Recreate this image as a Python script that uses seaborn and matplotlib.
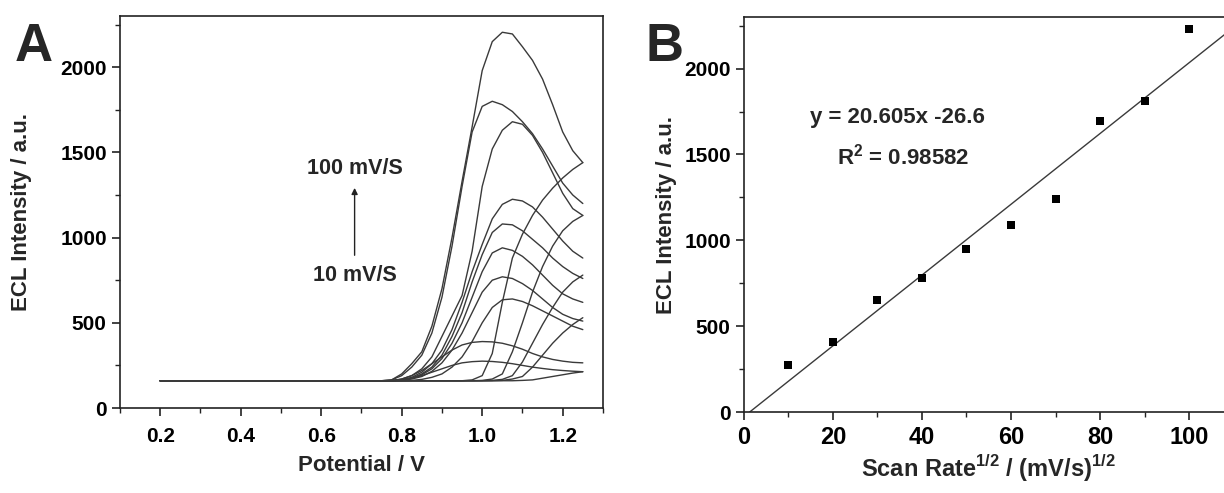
import numpy as np
import pandas as pd
import seaborn as sns
import matplotlib
matplotlib.use("Agg")
import matplotlib.pyplot as plt
from matplotlib.ticker import MultipleLocator

# ---- panel A: ECL intensity vs potential ----
potential = [0.20, 0.75, 0.775, 0.80, 0.825, 0.85, 0.875, 0.90, 0.925, 0.95, 0.975,
             1.00, 1.025, 1.05, 1.075, 1.10, 1.125, 1.15, 1.175, 1.20, 1.225, 1.25]

# peaked curves (10 ... 100 mV/s)
curve_100 = [160, 160, 165, 200, 260, 330, 480, 700, 1000, 1330, 1650,
             1980, 2150, 2205, 2195, 2120, 2040, 1930, 1780, 1620, 1510, 1440]
curve_90 = [160, 160, 165, 190, 240, 310, 440, 650, 950, 1300, 1620,
            1770, 1800, 1780, 1740, 1680, 1610, 1520, 1420, 1320, 1250, 1200]
curve_80 = [160, 160, 160, 170, 190, 230, 300, 420, 540, 660, 920,
            1300, 1520, 1630, 1680, 1665, 1600, 1500, 1380, 1260, 1170, 1130]
curve_70 = [160, 160, 160, 165, 180, 210, 260, 340, 460, 620, 800,
            960, 1110, 1195, 1225, 1215, 1180, 1120, 1050, 980, 920, 880]
curve_60 = [160, 160, 160, 165, 175, 200, 240, 310, 420, 560, 740,
            900, 1030, 1080, 1075, 1040, 990, 940, 880, 830, 790, 760]
curve_50 = [160, 160, 160, 165, 175, 195, 230, 290, 380, 500, 650,
            800, 910, 940, 925, 890, 840, 780, 720, 670, 640, 620]
curve_40 = [160, 160, 160, 162, 170, 185, 215, 265, 340, 440, 560,
            680, 750, 770, 760, 730, 690, 640, 590, 550, 525, 510]
curve_30 = [160, 160, 160, 160, 162, 168, 180, 200, 240, 300, 390,
            500, 590, 635, 640, 625, 600, 570, 540, 510, 480, 460]
curve_20 = [160, 160, 160, 170, 190, 220, 260, 300, 340, 370, 385,
            390, 388, 380, 365, 345, 320, 300, 285, 275, 268, 265]
curve_10 = [160, 160, 160, 165, 175, 190, 210, 230, 250, 265, 272,
            275, 273, 268, 260, 250, 240, 232, 225, 220, 216, 213]

# late rising traces
rise_1 = [160, 160, 160, 160, 160, 160, 160, 160, 160, 160, 165,
          190, 320, 620, 880, 1020, 1130, 1220, 1290, 1350, 1400, 1440]
rise_2 = [160, 160, 160, 160, 160, 160, 160, 160, 160, 160, 160,
          162, 170, 200, 330, 500, 680, 830, 950, 1040, 1095, 1130]
rise_3 = [160, 160, 160, 160, 160, 160, 160, 160, 160, 160, 160,
          160, 162, 168, 190, 270, 380, 490, 590, 680, 740, 780]
rise_4 = [160, 160, 160, 160, 160, 160, 160, 160, 160, 160, 160,
          160, 160, 162, 170, 185, 240, 310, 380, 440, 490, 530]
rise_5 = [160, 160, 160, 160, 160, 160, 160, 160, 160, 160, 160,
          160, 160, 160, 160, 162, 165, 175, 185, 195, 205, 213]

curves_a = {
    "100": curve_100, "90": curve_90, "80": curve_80, "70": curve_70,
    "60": curve_60, "50": curve_50, "40": curve_40, "30": curve_30,
    "20": curve_20, "10": curve_10, "r1": rise_1, "r2": rise_2,
    "r3": rise_3, "r4": rise_4, "r5": rise_5,
}

# ---- panel B: peak intensity vs sqrt(scan rate) ----
sqrt_rate = [10, 20, 30, 40, 50, 60, 70, 80, 90, 100]
peak_intensity = [273, 409, 650, 781, 948, 1091, 1240, 1692, 1809, 2230]
fit_slope = 20.605
fit_intercept = -26.6

sns.set_style("ticks")
plt.rcParams["font.family"] = ["Liberation Sans", "DejaVu Sans"]
plt.rcParams["mathtext.fontset"] = "custom"
plt.rcParams["mathtext.rm"] = "Liberation Sans:bold"
plt.rcParams["mathtext.bf"] = "Liberation Sans:bold"

fig = plt.figure(figsize=(12.24, 4.93), dpi=100)
fig.patch.set_facecolor("white")

ax_a = fig.add_axes([0.098, 0.1724, 0.3946, 0.795])
ax_b = fig.add_axes([0.6078, 0.1643, 0.40, 0.801])

df_a = pd.concat(
    [pd.DataFrame({"potential": potential, "intensity": vals, "curve": name})
     for name, vals in curves_a.items()],
    ignore_index=True,
)
sns.lineplot(data=df_a, x="potential", y="intensity", units="curve",
             estimator=None, sort=False, color="#3a3a3a", lw=1.0, ax=ax_a)

ax_a.set_xlim(0.1, 1.3)
ax_a.set_ylim(0, 2300)
ax_a.xaxis.set_minor_locator(MultipleLocator(0.1))
ax_a.yaxis.set_major_locator(MultipleLocator(500))
ax_a.yaxis.set_minor_locator(MultipleLocator(250))
ax_a.set_xticks([0.2, 0.4, 0.6, 0.8, 1.0, 1.2])
ax_a.set_xticklabels(["0.2", "0.4", "0.6", "0.8", "1.0", "1.2"])
ax_a.set_xlabel("Potential / V", fontsize=16, fontweight="bold", labelpad=6)
ax_a.set_ylabel("ECL Intensity / a.u.", fontsize=16, fontweight="bold", labelpad=20)

ax_a.annotate("", xy=(0.683, 1308), xytext=(0.683, 880),
              arrowprops=dict(arrowstyle="-|>", color="#222222", lw=1.0,
                              mutation_scale=9))
ax_a.text(0.683, 1405, "100 mV/S", ha="center", va="center",
          fontsize=15.5, fontweight="bold")
ax_a.text(0.683, 780, "10 mV/S", ha="center", va="center",
          fontsize=15.5, fontweight="bold")
fig.text(0.012, 0.905, "A", fontsize=38, fontweight="bold", ha="left", va="center")

# fitted line of panel B
fit_x = [-fit_intercept / fit_slope, 110]
fit_y = [fit_slope * v + fit_intercept for v in fit_x]
df_fit = pd.DataFrame({"x": fit_x, "y": fit_y})
sns.lineplot(data=df_fit, x="x", y="y", color="#3a3a3a", lw=1.0, ax=ax_b)

df_b = pd.DataFrame({"rate": sqrt_rate, "ecl": peak_intensity})
sns.scatterplot(data=df_b, x="rate", y="ecl", marker="s", s=32,
                color="black", edgecolor="black", linewidth=0, ax=ax_b,
                zorder=3)

ax_b.set_xlim(0, 110)
ax_b.set_ylim(0, 2300)
ax_b.xaxis.set_major_locator(MultipleLocator(20))
ax_b.xaxis.set_minor_locator(MultipleLocator(10))
ax_b.yaxis.set_major_locator(MultipleLocator(500))
ax_b.yaxis.set_minor_locator(MultipleLocator(250))
ax_b.set_xlabel(r"Scan Rate$^{\mathbf{1/2}}$ / (mV/s)$^{\mathbf{1/2}}$",
                fontsize=17, fontweight="bold", labelpad=3)
ax_b.set_ylabel("ECL Intensity / a.u.", fontsize=16, fontweight="bold", labelpad=5)
ax_b.text(34.4, 1714, "y = 20.605x -26.6", ha="center", va="center",
          fontsize=16, fontweight="bold")
ax_b.text(35.7, 1487, r"R$^{\mathbf{2}}$ = 0.98582", ha="center", va="center",
          fontsize=16, fontweight="bold")
fig.text(0.527, 0.905, "B", fontsize=38, fontweight="bold", ha="left", va="center")

for ax in (ax_a, ax_b):
    for sp in ax.spines.values():
        sp.set_visible(True)
        sp.set_color("#222222")
        sp.set_linewidth(1.2)
    ax.tick_params(which="major", direction="out", length=6, width=1.2,
                   labelsize=15, colors="#222222", labelcolor="black")
    ax.tick_params(which="minor", direction="out", length=3.5, width=1.0,
                   colors="#222222")
    for lab in ax.get_xticklabels() + ax.get_yticklabels():
        lab.set_fontweight("bold")
ax_a.tick_params(axis="x", pad=8)
ax_b.tick_params(axis="x", labelsize=17, pad=4)
ax_b.tick_params(axis="y", labelsize=15)

fig.savefig("out.png", dpi=100)
